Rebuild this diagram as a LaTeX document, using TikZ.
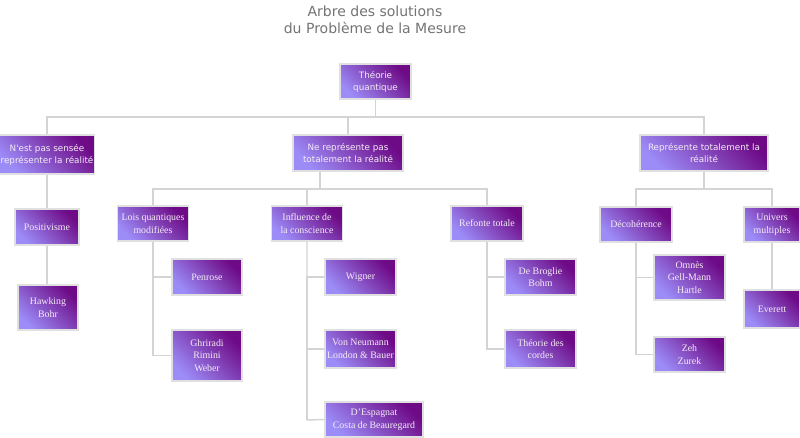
\documentclass[tikz,border=0pt]{standalone}
\usepackage{fontspec}
\setmainfont{Liberation Serif}
\newfontfamily\vsans{DejaVu Sans}
\begin{document}
\begin{tikzpicture}[x=0.75pt,y=-0.75pt,
  box/.style 2 args={draw=black!12,line width=0.8pt,left color=lite,right color=dark,shading angle=135,
    minimum width={#1*0.75pt},minimum height={#2*0.75pt},inner sep=1pt,align=center,text=white!92!violet},
  sbox/.style 2 args={box={#1}{#2},font=\vsans\fontsize{6.6}{9}\selectfont},
  rbox/.style 2 args={box={#1}{#2},font=\fontsize{7.4}{9.5}\selectfont},
  ln/.style={draw=black!17,line width=1.1pt}]
\definecolor{lite}{HTML}{9C8CF8}
\definecolor{dark}{HTML}{6E0A86}
\useasboundingbox (0,0) rectangle (800,438);
\node[font=\vsans\fontsize{10.5}{12.5}\selectfont,text=black!55,align=center] (title) at (375,20) {Arbre des solutions\\du Problème de la Mesure};
% buses
\coordinate (b1) at (375.5,117);
\coordinate (b2) at (320,189);
\coordinate (b3) at (704,189);
\coordinate (v1) at (153,355.5);
\coordinate (v2) at (307,420);
\coordinate (v3) at (487,349);
\coordinate (v4) at (636,354.5);
% nodes
\node[sbox={71}{35}] (tq) at (375.5,81.5) {Théorie\\quantique};
\node[sbox={94}{39}] (nps) at (47,154.5) {N'est pas sensée\\représenter la réalité};
\node[sbox={110}{36}] (ne) at (348,153) {Ne représente pas\\totalement la réalité};
\node[sbox={128}{36}] (rt) at (704,153) {Représente totalement la\\réalité};
\node[rbox={64}{36}] (pos) at (47,227) {Positivisme};
\node[rbox={60}{45}] (hb) at (48,307.5) {Hawking\\Bohr};
\node[rbox={71}{35}] (lq) at (153,223.5) {Lois quantiques\\modifiées};
\node[rbox={71}{35}] (inf) at (307,223.5) {Influence de\\la conscience};
\node[rbox={72}{35}] (ref) at (487,223.5) {Refonte totale};
\node[rbox={70}{36}] (pen) at (207,277) {Penrose};
\node[rbox={70}{51}] (ghr) at (207,355.5) {Ghriradi\\Rimini\\Weber};
\node[rbox={71}{36}] (wig) at (360.5,277) {Wigner};
\node[rbox={71}{38}] (vn) at (360.5,349) {Von Neumann\\London \& Bauer};
\node[rbox={98}{35}] (desp) at (374,419.5) {D'Espagnat\\Costa de Beauregard};
\node[rbox={71}{36}] (dbb) at (540.5,277) {De Broglie\\Bohm};
\node[rbox={71}{38}] (tc) at (540.5,349) {Théorie des\\cordes};
\node[rbox={72}{35}] (dec) at (636,224.5) {Décohérence};
\node[rbox={56}{35}] (um) at (772,224.5) {Univers\\multiples};
\node[rbox={71}{45}] (om) at (689.5,277.5) {Omnès\\Gell-Mann\\Hartle};
\node[rbox={71}{35}] (zz) at (689.5,354.5) {Zeh\\Zurek};
\node[rbox={56}{38}] (ev) at (772,309) {Everett};
% connectors
\begin{scope}[on background layer/.style={}]
\end{scope}
\draw[ln] (tq.south) -- (b1);
\draw[ln] (nps.north) |- (b1);
\draw[ln] (ne.north) |- (b1);
\draw[ln] (rt.north) |- (b1);
\draw[ln] (ne.south -| b2) -- (b2);
\draw[ln] (lq.north) |- (b2);
\draw[ln] (inf.north) |- (b2);
\draw[ln] (ref.north) |- (b2);
\draw[ln] (rt.south) -- (b3);
\draw[ln] (dec.north) |- (b3);
\draw[ln] (um.north) |- (b3);
\draw[ln] (nps.south) -- (pos.north);
\draw[ln] (pos.south) -- (pos.south |- hb.north);
\draw[ln] (lq.south) -- (v1) -- (ghr.west);
\draw[ln] (pen.west) -| (v1);
\draw[ln] (inf.south) -- (v2) -- (desp.west);
\draw[ln] (wig.west) -| (v2);
\draw[ln] (vn.west) -| (v2);
\draw[ln] (ref.south) -- (v3) -- (tc.west);
\draw[ln] (dbb.west) -| (v3);
\draw[ln] (dec.south) -- (v4) -- (zz.west);
\draw[ln] (om.west) -| (v4);
\draw[ln] (um.south) -- (ev.north);
\end{tikzpicture}
\end{document}
